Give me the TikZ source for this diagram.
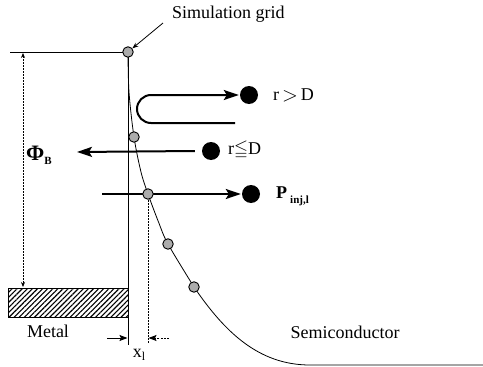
\documentclass[tikz,border=0pt]{standalone}
\usepackage{fontspec}
\setmainfont{Liberation Serif}
\usepackage{amssymb}
\usetikzlibrary{arrows.meta,patterns.meta}
\begin{document}
\begin{tikzpicture}[x=1pt,y=-1pt,
  lbl/.style={font=\fontsize{18}{20}\selectfont, inner sep=0pt},
  gridpt/.style={circle,draw,line width=0.9pt,fill=gray!65,minimum size=10.5pt,inner sep=0pt},
  particle/.style={circle,fill=black,minimum size=18pt,inner sep=0pt},
  bigarrow/.style={line width=2pt,-{Stealth[length=15pt,width=10pt,inset=3pt]}},
  thinline/.style={line width=0.8pt},
  dotline/.style={line width=0.8pt,dash pattern=on 1.5pt off 1.5pt},
  smalltip/.style={-{Stealth[length=8pt,width=6pt,inset=1.5pt,sharp]}},
]
\useasboundingbox (0,0) rectangle (483,367);

% positions
\coordinate (p0) at (128,52);
\coordinate (p1) at (134,137);
\coordinate (p2) at (148,194);
\coordinate (p3) at (168,244);
\coordinate (p4) at (194,287);
\coordinate (topL) at (10,52);
\coordinate (ifB) at (128,345);
\coordinate (phiT) at (23,53);
\coordinate (phiB) at (23,287);
\coordinate (x1B) at (148,343);
\coordinate (dimL) at (107,338);
\coordinate (dimLe) at (127.5,338);
\coordinate (dimR) at (169,338);
\coordinate (dimRe) at (148.5,338);
\coordinate (uEnd) at (235,123);
\coordinate (leftTip) at (77,152);
\coordinate (rightStart) at (102,194);
\coordinate (simArrStart) at (163,23);

% band edge and lines
\draw[thinline] (topL) -- (p0);
\draw[thinline] (p0) -- (ifB);
\draw[thinline] plot[smooth,tension=0.55] coordinates {(128,52) (129,92) (134,137) (141,172) (148,194) (158.5,222) (168,244) (194,287)}
   .. controls (224,331) and (258,365) .. (310,365) -- (483,365);

% metal
\draw[thinline,pattern={Lines[angle=45,distance=3.6pt,line width=1.1pt]}] (8,288) rectangle (128,317);

% barrier height
\draw[dotline,{Stealth[length=5pt,width=4pt]}-{Stealth[length=5pt,width=4pt]}] (phiT) -- (phiB);

% x1 dimension
\draw[dotline] (p2) -- (x1B);
\draw[line width=1pt,smalltip] (dimL) -- (dimLe);
\draw[line width=1pt,dash pattern=on 2pt off 1.2pt,smalltip] (dimR) -- (dimRe);

% particles
\node[particle] (pa) at (249,95) {};
\node[particle] (pb) at (211,151) {};
\node[particle] (pc) at (251,194) {};

% arrows
\draw[bigarrow] (uEnd) -- (151,123) arc[start angle=90,end angle=270,radius=14] -- ([xshift=-1pt]pa.west);
\draw[bigarrow] ([xshift=-7pt]pb.west) -- (leftTip);
\draw[bigarrow] (rightStart) -- ([xshift=-1pt]pc.west);

% grid points
\node[gridpt] (g0) at (p0) {};
\node[gridpt] (g1) at (p1) {};
\node[gridpt] (g2) at (p2) {};
\node[gridpt] (g3) at (p3) {};
\node[gridpt] (g4) at (p4) {};

\draw[thinline,-{Stealth[length=6pt,width=4.5pt]}] (simArrStart) -- (g0);

% labels
\node[lbl,anchor=west] (sim) at (172,14) {Simulation grid};
\node[lbl,anchor=west] (la) at (273,95) {r\,\raisebox{-1pt}{\fontsize{22}{22}\selectfont$>$}\,D};
\node[lbl,anchor=west] (lb) at (228,150) {r$\leqq$D};
\node[lbl,anchor=west] (lc) at (276,196) {\textbf{P}\,\raisebox{-5pt}{\fontsize{11}{11}\selectfont\textbf{inj,l}}};
\node[lbl] (phi) at (39,155) {{\fontsize{22}{22}\selectfont\textbf{Φ}}\raisebox{-4pt}{\fontsize{11}{11}\selectfont\textbf{B}}};
\node[lbl] (metal) at (48,331) {Metal};
\node[lbl] (semi) at (345,332) {Semiconductor};
\node[lbl] (x1) at (139,355) {x\raisebox{-3pt}{\fontsize{12}{12}\selectfont l}};
\end{tikzpicture}
\end{document}
